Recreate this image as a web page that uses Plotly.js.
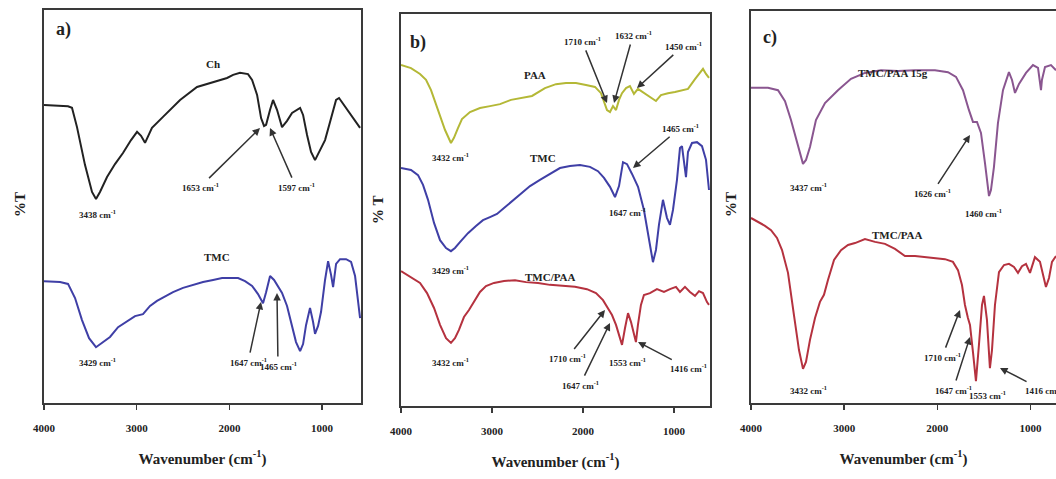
<!DOCTYPE html>
<html><head><meta charset="utf-8">
<script src="https://cdn.plot.ly/plotly-3.0.1.min.js"></script>
<style>html,body{margin:0;padding:0;background:#fff}#chart{width:1056px;height:479px}</style>
</head><body><div id="chart"></div>
<script>
// ---------- Data (wavenumber cm-1, relative %T on a 0-100 panel scale) ----------
// Panel a) Chitosan (Ch)
const wnCh = [4000,3741,3698,3644,3558,3482,3439,3396,3320,3234,3148,3061,2996,2953,2910,2867,2835,2716,2532,2349,2176,2025,1960,1885,1799,1755,1701,1658,1626,1604,1561,1529,1486,1432,1378,1324,1237,1205,1162,1119,1076,1022,968,914,849,817,741,666,590];
const tCh  = [75.8,75.5,75.1,70.2,60.6,53.7,51.9,53.7,57.5,60.8,63.6,66.9,69.0,68.0,66.2,68.2,70.0,72.8,77.1,80.4,81.7,82.7,83.5,84.0,83.7,82.2,78.4,72.5,70.5,70.8,74.6,77.1,74.6,70.2,71.8,73.8,75.1,73.3,68.2,63.9,61.8,64.4,66.9,71.5,77.1,77.6,75.1,72.5,70.0];
// Panel a) TMC
const wnTMCa = [4000,3827,3741,3665,3590,3514,3439,3374,3288,3201,3104,3018,2932,2856,2781,2694,2608,2500,2392,2284,2176,2079,1993,1906,1831,1755,1691,1637,1604,1561,1518,1475,1432,1378,1324,1281,1237,1205,1173,1130,1097,1076,1043,1011,968,935,903,881,849,806,741,687,644,612,590];
const tTMCa  = [31.0,30.8,30.3,26.7,21.1,16.5,14.2,15.3,16.8,19.3,20.9,22.1,22.6,24.7,26.0,27.2,28.2,29.3,30.0,30.8,31.3,31.8,31.8,31.8,31.0,29.8,27.7,25.4,28.2,32.3,31.3,29.5,28.0,24.7,19.8,15.5,13.2,15.0,19.8,24.2,20.6,17.6,19.6,23.2,31.3,36.1,32.6,29.5,35.4,36.6,36.6,35.9,32.3,26.2,21.6];
// Panel b) PAA
const wnPAA = [4000,3890,3791,3725,3670,3593,3516,3451,3418,3374,3330,3242,3132,3022,2912,2791,2670,2560,2418,2297,2187,2077,1967,1868,1802,1769,1736,1703,1670,1637,1604,1571,1527,1484,1440,1396,1330,1264,1198,1143,1066,989,912,846,769,714,681,648,615];
const tPAA  = [87.0,86.2,84.7,83.2,80.6,75.5,70.4,67.1,68.4,70.9,73.2,75.0,76.0,76.5,77.0,78.1,78.6,79.1,81.1,82.1,82.4,82.4,81.9,81.4,79.8,77.6,75.5,75.0,76.5,75.5,78.1,79.8,81.1,81.6,79.6,80.9,79.8,78.8,77.8,79.3,79.8,80.1,80.6,80.9,83.4,85.2,86.0,84.7,83.7];
// Panel b) TMC
const wnTMCb = [4000,3890,3813,3758,3703,3637,3571,3505,3451,3407,3352,3264,3176,3099,3022,2945,2868,2780,2681,2582,2473,2363,2253,2143,2033,1923,1835,1769,1703,1648,1604,1560,1516,1461,1395,1330,1275,1231,1198,1165,1121,1077,1044,1011,967,934,912,890,868,846,802,747,692,648,615];
const tTMCb  = [60.7,60.2,58.9,56.4,52.6,46.7,42.3,40.3,39.5,40.3,41.8,44.1,45.9,47.4,48.2,49.0,50.5,52.3,54.3,56.1,57.7,59.2,60.7,61.2,61.5,61.0,59.9,58.2,55.9,53.3,56.1,62.2,61.7,59.2,55.9,50.0,42.3,36.7,39.8,46.2,52.6,48.0,46.2,50.0,57.7,65.8,66.3,61.5,58.4,64.8,67.1,67.3,66.3,62.8,55.1];
// Panel b) TMC/PAA
const wnTPb = [4000,3890,3791,3714,3637,3571,3505,3451,3407,3363,3308,3253,3198,3132,3066,2978,2868,2747,2626,2494,2363,2231,2088,1956,1857,1780,1725,1681,1637,1604,1571,1538,1505,1472,1440,1418,1396,1363,1330,1264,1187,1110,1044,978,934,879,824,769,725,681,637,615];
const tTPb  = [34.4,32.9,31.4,28.8,25.0,20.7,17.3,16.1,17.3,19.4,22.7,24.5,26.5,29.1,30.6,31.4,31.9,32.1,31.6,31.4,30.9,30.6,30.4,29.8,28.8,27.0,25.0,23.2,20.7,18.1,15.6,19.9,23.7,21.4,18.1,16.3,20.7,25.8,28.3,28.8,29.8,29.1,29.8,30.4,29.1,30.4,29.1,28.1,29.3,28.8,26.5,25.8];
// Panel c) TMC/PAA 15g
const wnTP15 = [4000,3818,3710,3635,3571,3496,3442,3410,3367,3303,3206,3067,2927,2777,2605,2423,2240,2026,1886,1800,1725,1661,1618,1575,1532,1489,1446,1425,1393,1350,1296,1232,1199,1167,1124,1049,974,920,899,888,878,845,781,727];
const tTP15  = [80.4,80.4,79.8,77.0,72.2,65.3,61.0,62.0,65.3,72.2,76.5,79.8,82.7,84.2,84.9,84.7,84.9,84.9,84.4,83.2,79.8,74.7,71.7,71.7,68.9,61.2,52.8,54.3,60.2,71.4,79.8,84.4,82.4,79.1,81.4,84.2,86.2,85.5,81.1,79.8,82.4,85.7,86.2,84.9];
// Panel c) TMC/PAA
const wnTPc = [4000,3925,3850,3785,3721,3667,3603,3539,3485,3442,3410,3367,3313,3260,3217,3174,3109,3034,2959,2884,2777,2669,2562,2455,2348,2240,2133,2026,1918,1833,1779,1736,1704,1672,1650,1618,1586,1554,1521,1500,1468,1436,1414,1382,1339,1285,1232,1178,1135,1092,1049,1006,953,899,867,835,802,770,727];
const tTPc  = [47.2,46.2,45.2,44.1,42.1,39.0,33.2,22.4,13.5,8.7,10.5,16.1,21.7,25.8,27.6,31.4,36.5,39.0,40.3,40.8,41.8,41.1,40.6,39.3,37.5,37.5,37.2,37.0,36.7,36.0,33.9,30.1,25.0,21.7,19.9,13.0,5.6,14.8,25.0,27.3,21.2,8.9,13.5,25.0,33.4,35.2,35.5,34.7,33.2,34.9,35.5,33.2,37.2,36.0,32.7,29.6,31.9,36.0,37.5];

const tickVals = [4000,3000,2000,1000];
const tickText = ['4000','3000','2000','1000'];
const xTitle = 'Wavenumber (cm<sup>-1</sup>)';

// ---------- Styling ----------
const W = 1056, H = 479;
const SERIF = 'Liberation Serif, Times New Roman, serif';
const FRAME = '#3a3a3a';
const C = {ch:'#222222', tmc:'#3f3fa6', paa:'#b4b836', tp:'#b5323f', tp15:'#8a5690'};
const fx = p => p / W;
const fy = p => 1 - p / H;

function line(x, y, color, xa, ya) {
  return {x:x, y:y, type:'scatter', mode:'lines', xaxis:xa, yaxis:ya,
          line:{color:color, width:2}, hoverinfo:'skip', showlegend:false};
}
const traces = [
  line(wnCh, tCh, C.ch, 'x', 'y'),
  line(wnTMCa, tTMCa, C.tmc, 'x', 'y'),
  line(wnPAA, tPAA, C.paa, 'x2', 'y2'),
  line(wnTMCb, tTMCb, C.tmc, 'x2', 'y2'),
  line(wnTPb, tTPb, C.tp, 'x2', 'y2'),
  line(wnTP15, tTP15, C.tp15, 'x3', 'y3'),
  line(wnTPc, tTPc, C.tp, 'x3', 'y3')
];

function xAxis(dom, rng, anchor, mirror) {
  return {domain:dom, range:rng, anchor:anchor, showgrid:false, zeroline:false,
    showline:true, linecolor:FRAME, linewidth:2, mirror:mirror,
    ticks:'outside', ticklen:5, tickwidth:1.5, tickcolor:FRAME,
    tickvals:tickVals, ticktext:tickText, ticklabelstandoff:9,
    tickfont:{family:SERIF, size:11, color:'#222', weight:'bold'},
    title:{text:xTitle, standoff:20, font:{family:SERIF, size:15, color:'#222', weight:'bold'}}};
}
function yAxis(dom, anchor, mirror) {
  return {domain:dom, range:[0,100], anchor:anchor, showgrid:false, zeroline:false,
    showline:true, linecolor:FRAME, linewidth:2, mirror:mirror, showticklabels:false, ticks:''};
}

const ann = [];
// plain label centred at pixel (x, y)
function lab(t, x, y, size, angle) {
  ann.push({text:t, x:fx(x), y:fy(y), xref:'paper', yref:'paper', showarrow:false,
    xanchor:'center', yanchor:'middle', textangle:angle||0,
    font:{family:SERIF, size:size||9, color:'#222', weight:'bold'}});
}
// label centred at pixel (x, y) with an arrow pointing to pixel (hx, hy)
function labArr(t, x, y, hx, hy) {
  ann.push({text:t, x:fx(hx), y:fy(hy), xref:'paper', yref:'paper', showarrow:true,
    ax:x-hx, ay:y-hy, arrowhead:2, arrowsize:1, arrowwidth:1.5, arrowcolor:'#333',
    standoff:0, startstandoff:2,
    font:{family:SERIF, size:9, color:'#222', weight:'bold'}});
}
const cm = ' cm<sup>-1</sup>';
// panel a
lab('a)', 63, 30, 18); lab('Ch', 213, 64, 11);
lab('3438'+cm, 97, 214);
labArr('1653'+cm, 200, 187, 260, 128);
labArr('1597'+cm, 296, 187, 270, 128);
lab('TMC', 217, 257, 11); lab('3429'+cm, 97, 362);
labArr('1647'+cm, 248, 362, 261, 302);
labArr('1465'+cm, 278, 366, 277, 293);
lab('%T', 20, 205, 15, -90);
// panel b
lab('b)', 418, 43, 18); lab('PAA', 535, 75, 11);
lab('3432'+cm, 450, 157);
labArr('1710'+cm, 582, 41, 607, 103);
labArr('1632'+cm, 633, 35, 614, 103);
labArr('1450'+cm, 683, 46, 637, 88);
lab('TMC', 543, 158, 11);
labArr('1465'+cm, 680, 128, 633, 168);
lab('1647'+cm, 627, 212); lab('3429'+cm, 450, 270);
lab('TMC/PAA', 550, 277, 11); lab('3432'+cm, 450, 362);
labArr('1710'+cm, 567, 358, 605, 310);
labArr('1647'+cm, 580, 385, 610, 323);
lab('1553'+cm, 627, 362);
labArr('1416'+cm, 688, 368, 638, 342);
lab('% T', 378, 210, 15, -90);
// panel c
lab('c)', 770, 37, 18); lab('TMC/PAA 15g', 893, 73, 11);
lab('3437'+cm, 808, 187);
labArr('1626'+cm, 932, 193, 970, 135);
lab('1460'+cm, 983, 213);
lab('TMC/PAA', 897, 235, 11); lab('3432'+cm, 808, 390);
labArr('1710'+cm, 942, 357, 960, 310);
labArr('1647'+cm, 953, 390, 970, 337);
lab('1553'+cm, 987, 395);
labArr('1416'+cm, 1043, 390, 1000, 368);
lab('%T', 731, 205, 15, -90);

const layout = {
  width:W, height:H, margin:{l:0, r:0, t:0, b:0},
  paper_bgcolor:'#fff', plot_bgcolor:'#fff', showlegend:false,
  xaxis:  xAxis([fx(44), fx(361)], [4000, 580], 'y', true),
  yaxis:  yAxis([fy(403), fy(10)], 'x', true),
  xaxis2: xAxis([fx(401), fx(710)], [4000, 604], 'y2', true),
  yaxis2: yAxis([fy(406), fy(14)], 'x2', true),
  xaxis3: xAxis([fx(751), 1], [4000, 727], 'y3', true),
  yaxis3: yAxis([fy(403), fy(11)], 'x3', false),
  annotations: ann
};
Plotly.newPlot('chart', traces, layout, {staticPlot:true, displayModeBar:false});
</script></body></html>
